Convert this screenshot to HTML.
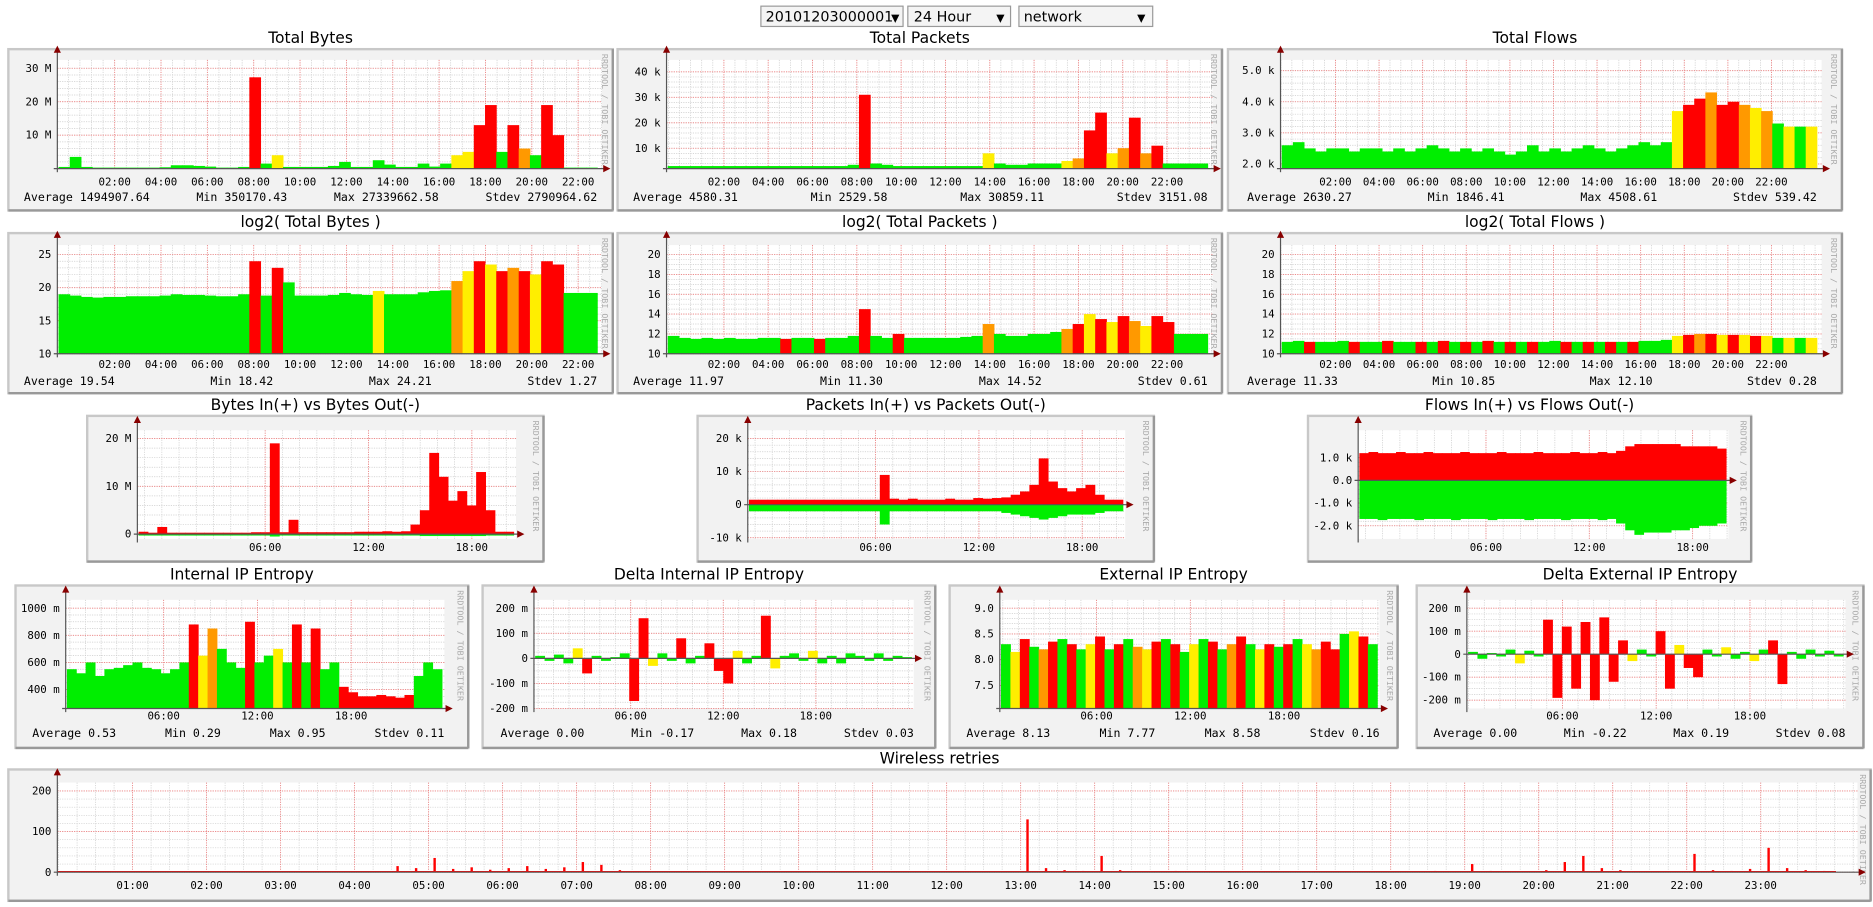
<!DOCTYPE html>
<html><head><meta charset="utf-8"><style>
html,body{margin:0;padding:0;background:#fff;width:1873px;height:907px;overflow:hidden}
svg{display:block}
.t{font-family:"DejaVu Sans","Liberation Sans",sans-serif;font-size:13px;fill:#000}
.m{font-family:"DejaVu Sans Mono","Liberation Mono",monospace;font-size:9px;fill:#000}
.s{font-family:"DejaVu Sans Mono","Liberation Mono",monospace;font-size:9.7px;fill:#000}
.r{font-family:"DejaVu Sans Mono","Liberation Mono",monospace;font-size:7px;fill:#aaa}
</style></head><body>
<svg id="root" width="1873" height="907" viewBox="0 0 1568 759">
<g>
<g><rect x="637" y="5" width="119" height="17" fill="#f4f4f4" stroke="#999"/><text class="t" x="641" y="18" style="font-size:12px">20101203000001</text><text class="t" x="746" y="18" style="font-size:9px">▼</text></g>
<g><rect x="760" y="5" width="86" height="17" fill="#f4f4f4" stroke="#999"/><text class="t" x="765" y="18" style="font-size:12px">24 Hour</text><text class="t" x="834" y="18" style="font-size:9px">▼</text></g>
<g><rect x="853" y="5" width="112" height="17" fill="#f4f4f4" stroke="#999"/><text class="t" x="857" y="18" style="font-size:12px">network</text><text class="t" x="952" y="18" style="font-size:9px">▼</text></g>
</g>
</svg>
<script>
// ---- data ----
const tbVals=[0.5,3.5,0.5,0.3,0.3,0.3,0.3,0.3,0.3,0.4,1,1,0.8,0.6,0.3,0.3,0.5,27.3,1.5,4,0.5,0.5,0.5,0.5,0.8,2,0.5,0.5,2.5,1.2,0.5,0.5,1.5,0.6,1.5,4,5,13,19,5,13,6,4,19,10,0.3,0.3,0.3];
const tbCols={17:'r',19:'y',35:'y',36:'y',37:'r',38:'r',40:'r',41:'o',43:'r',44:'r'};
const tpVals=[3,3,3,3,3,3,3,3,3,3,3,3,3,3,3,3,3.5,31,4,3.5,3,3,3,3,3,3,3,3,8,4,3.5,3.5,4,4,4,5,6,17,24,8,10,22,8,11,4,4,4,4];
const tpCols={17:'r',28:'y',35:'y',36:'o',37:'r',38:'r',39:'y',40:'o',41:'r',42:'o',43:'r'};
const tfVals=[2.6,2.7,2.5,2.4,2.5,2.5,2.4,2.5,2.5,2.4,2.5,2.4,2.5,2.6,2.5,2.4,2.5,2.4,2.5,2.4,2.3,2.4,2.6,2.4,2.5,2.4,2.5,2.6,2.5,2.4,2.5,2.6,2.7,2.6,2.7,3.7,3.9,4.1,4.3,3.9,4.0,3.9,3.8,3.7,3.3,3.2,3.2,3.2];
const tfCols={35:'y',36:'r',37:'r',38:'o',39:'r',40:'r',41:'o',42:'y',43:'o',45:'y',47:'y'};
const lbVals=[19,18.8,18.6,18.5,18.6,18.6,18.7,18.7,18.7,18.8,19,18.9,18.9,18.8,18.7,18.7,19,24,18.8,23,20.8,18.8,18.8,18.8,18.9,19.2,19,18.9,19.5,19,19,19,19.3,19.5,19.6,21,22.5,24,23.5,22.5,23,22.5,22,24,23.5,19.2,19.2,19.2];
const lbCols={17:'r',19:'r',28:'y',35:'o',36:'y',37:'r',38:'y',39:'r',40:'o',41:'r',42:'y',43:'r',44:'r'};
const lpVals=[11.8,11.6,11.5,11.6,11.5,11.6,11.5,11.5,11.6,11.6,11.5,11.6,11.6,11.5,11.6,11.6,11.8,14.5,11.8,11.6,12,11.6,11.6,11.6,11.6,11.6,11.7,11.8,13,12,11.8,11.8,12,12,12.2,12.5,13,14,13.5,13.2,13.8,13.3,12.8,13.8,13.2,12,12,12];
const lpCols={10:'r',13:'r',17:'r',20:'r',28:'o',35:'o',36:'r',37:'y',38:'r',39:'y',40:'r',41:'o',42:'y',43:'r',44:'r'};
const lfVals=[11.2,11.3,11.2,11.2,11.2,11.3,11.2,11.2,11.2,11.3,11.2,11.2,11.2,11.2,11.3,11.2,11.2,11.2,11.3,11.2,11.2,11.2,11.2,11.2,11.3,11.2,11.2,11.2,11.2,11.2,11.2,11.2,11.3,11.3,11.4,11.8,11.9,12,12,11.9,11.9,11.9,11.8,11.8,11.6,11.6,11.6,11.6];
const lfCols={2:'r',6:'r',9:'r',12:'r',14:'r',16:'r',18:'r',20:'r',22:'r',25:'r',27:'r',29:'r',31:'r',35:'y',36:'r',37:'o',38:'r',39:'y',40:'r',41:'y',42:'r',43:'y',45:'y',47:'y'};
const bytesIn=[0.5,0.3,1.5,0.3,0.3,0.3,0.3,0.3,0.3,0.3,0.3,0.3,0.4,0.4,19,0.4,3,0.4,0.4,0.4,0.4,0.4,0.4,0.5,0.5,0.5,0.6,0.5,0.6,2,5,17,12,7,9,6,13,5,0.5,0.5];
const bytesOut=[0.3,0.3,0.3,0.3,0.3,0.3,0.3,0.3,0.3,0.3,0.3,0.3,0.3,0.3,0.5,0.3,0.3,0.3,0.3,0.3,0.3,0.3,0.3,0.3,0.3,0.3,0.3,0.3,0.3,0.3,0.4,0.4,0.4,0.4,0.4,0.4,0.4,0.3,0.3,0.3];
const pktIn=[1.5,1.5,1.5,1.5,1.5,1.5,1.5,1.5,1.5,1.5,1.5,1.5,1.5,1.5,9,1.8,1.5,1.8,1.5,1.5,1.5,1.8,1.5,1.5,2,1.8,2,2.2,3,4,6,14,7,5,4,5,6,3,1.5,1.5];
const pktOut=[2,2,2,2,2,2,2,2,2,2,2,2,2,2,6,2,2,2,2,2,2,2,2,2,2,2,2,2.5,3,3.5,4,4.5,4,3.5,3,3,3,2.5,2,2];
const flowIn=[1.2,1.25,1.2,1.2,1.25,1.2,1.2,1.25,1.2,1.2,1.2,1.25,1.2,1.2,1.2,1.25,1.2,1.2,1.2,1.25,1.2,1.2,1.2,1.25,1.2,1.2,1.25,1.2,1.3,1.5,1.6,1.6,1.6,1.6,1.6,1.5,1.5,1.5,1.5,1.4];
const flowOut=[1.7,1.7,1.75,1.7,1.7,1.7,1.75,1.7,1.7,1.7,1.75,1.7,1.7,1.7,1.75,1.7,1.7,1.7,1.75,1.7,1.7,1.7,1.75,1.7,1.7,1.7,1.75,1.7,1.9,2.2,2.4,2.3,2.3,2.3,2.2,2.2,2.1,2.0,2.0,1.9];
const intEnt=[550,520,600,500,550,560,580,600,560,550,520,550,600,880,650,850,700,600,560,900,600,650,700,600,880,600,850,550,600,420,380,350,350,360,350,340,360,500,600,550];
const intEntCols={13:'r',14:'y',15:'o',19:'r',22:'y',24:'r',26:'r',29:'r',30:'r',31:'r',32:'r',33:'r',34:'r',35:'r',36:'r'};
const dIntEnt=[10,-10,15,-20,40,-60,10,-10,5,20,-170,160,-30,20,-10,80,-20,10,60,-50,-100,30,-20,10,170,-40,10,20,-10,30,-20,10,-20,20,10,-10,20,-10,10,5];
const extEnt=[8.3,8.15,8.4,8.25,8.2,8.35,8.4,8.3,8.2,8.3,8.45,8.2,8.3,8.4,8.25,8.2,8.35,8.4,8.3,8.15,8.3,8.4,8.35,8.2,8.3,8.45,8.3,8.2,8.3,8.25,8.3,8.4,8.3,8.2,8.35,8.2,8.5,8.55,8.45,8.3];
const extEntCols={1:'y',2:'r',4:'o',5:'r',7:'r',9:'y',10:'r',12:'r',14:'o',15:'y',16:'r',18:'r',20:'y',22:'r',24:'o',25:'r',27:'y',28:'r',30:'r',32:'y',33:'o',34:'r',35:'r',37:'y',38:'r'};
const dExtEnt=[10,-20,5,-10,20,-40,15,-10,150,-190,120,-150,140,-200,160,-120,60,-30,20,-10,100,-150,40,-60,-100,20,-10,30,-20,10,-30,20,60,-130,10,-20,20,-10,15,-10];
const wirelessRetries=[0,0,0,0,0,0,0,0,0,0,0,0,0,0,0,0,0,2,15,10,35,8,12,6,10,15,8,12,25,18,5,0,0,0,0,0,0,0,0,0,0,0,0,0,0,0,0,0,0,0,0,0,130,10,5,3,40,5,2,0,3,0,0,2,0,2,0,0,0,0,2,0,0,0,3,0,20,3,0,2,5,25,40,10,5,0,0,2,45,5,3,8,60,10,5,3];
const hrs2=["02:00","04:00","06:00","08:00","10:00","12:00","14:00","16:00","18:00","20:00","22:00"];
const hrs6=["06:00","12:00","18:00"];
const hrs1=["01:00","02:00","03:00","04:00","05:00","06:00","07:00","08:00","09:00","10:00","11:00","12:00","13:00","14:00","15:00","16:00","17:00","18:00","19:00","20:00","21:00","22:00","23:00"];
// ---- drawing ----
const NS='http://www.w3.org/2000/svg';
const root=document.getElementById('root');
const COL={g:'#00ee00',y:'#ffee00',o:'#ff9900',r:'#ff0000'};
const CW=5.85;
function mk(tag,attrs,parent,txt){const e=document.createElementNS(NS,tag);for(const k in attrs)e.setAttribute(k,attrs[k]);if(txt!==undefined)e.textContent=txt;parent.appendChild(e);return e;}
function panel(c){
  const g=mk('g',{},root);
  
  
  const tt=mk('text',{class:'t',x:c.bx+c.bw/2,y:c.by-5,'text-anchor':'middle'},g,c.title);
  
  
  const box=mk('rect',{x:c.bx,y:c.by,width:c.bw,height:c.bh,fill:'#f2f2f2',stroke:'#c8c8c8','stroke-width':2},g);
  
  
  mk('line',{x1:c.bx+c.bw,y1:c.by,x2:c.bx+c.bw,y2:c.by+c.bh,stroke:'#999','stroke-width':2},g);
  mk('line',{x1:c.bx,y1:c.by+c.bh,x2:c.bx+c.bw,y2:c.by+c.bh,stroke:'#999','stroke-width':2},g);
  const y=v=>c.yb-(v-c.vb)*(c.yb-c.yt)/(c.vt-c.vb);
  const pbot=c.pbot||c.yb;
  mk('rect',{x:c.ax,y:c.pt,width:c.pr-c.ax,height:pbot-c.pt,fill:'#fff'},g);
  for(let v=c.ymin0;v<=c.vt+1e-9;v+=c.ystep){const py=y(v);if(py<c.pt||py>pbot)continue;mk('line',{x1:c.ax,y1:py,x2:c.pr,y2:py,stroke:'#ccc','stroke-width':0.6,'stroke-dasharray':'1,1'},g);}
  const xs=c.xt;
  const sp=xs.length>1?(xs[1]-xs[0]):60;
  for(let px=xs[0]-sp*Math.ceil((xs[0]-c.ax)/sp);px<c.pr;px+=sp/c.vdiv){if(px<=c.ax)continue;mk('line',{x1:px,y1:c.pt,x2:px,y2:pbot,stroke:'#ccc','stroke-width':0.6,'stroke-dasharray':'1,1'},g);}
  xs.forEach((px,i)=>{mk('line',{x1:px,y1:c.pt,x2:px,y2:pbot,stroke:'#f08080','stroke-width':0.7,'stroke-dasharray':'1,1'},g);
    const lt=mk('text',{class:'m',x:px,y:c.xly,'text-anchor':'middle'},g,c.xl[i]);
    
    });
  c.yl.forEach((lab,i)=>{const py=y(c.yv[i]);mk('line',{x1:c.ax,y1:py,x2:c.pr,y2:py,stroke:'#f08080','stroke-width':0.7,'stroke-dasharray':'1,1'},g);
    const lt=mk('text',{class:'m',x:c.ax-5,y:py+3,'text-anchor':'end'},g,lab);
    
    });
  const rr=mk('text',{class:'r',transform:`translate(${c.bx+c.bw-9},${c.by+4}) rotate(90)`},g,'RRDTOOL / TOBI OETIKER');
  
  
  if(c.stats){
    const L=c.ax-28,R=c.sr||c.pr;
    const tot=c.stats.reduce((a,s)=>a+s.length*CW,0);
    const gap=(R-L-tot)/(c.stats.length-1);
    let x=L;
    c.stats.forEach(s=>{const st=mk('text',{class:'s',x:x,y:c.sy,textLength:s.length*CW},g,s);
      
      
      x+=s.length*CW+gap;});
  }
  return {g,y,c,axes:()=>{
    mk('line',{x1:c.ax,y1:c.pt-8,x2:c.ax,y2:pbot+3,stroke:'#555','stroke-width':1},g);
    const zy=c.zero!==undefined?y(c.zero):pbot;
    mk('line',{x1:c.ax-3,y1:zy,x2:c.pr+2,y2:zy,stroke:'#555','stroke-width':1},g);
    mk('path',{d:`M${c.ax-3},${c.pt-6}L${c.ax+3},${c.pt-6}L${c.ax},${c.pt-12}Z`,fill:'#800'},g);
    mk('path',{d:`M${c.pr+1},${zy-3}L${c.pr+1},${zy+3}L${c.pr+7},${zy}Z`,fill:'#800'},g);
  }};
}
function bars(P,vals,cols,base,name){
  const c=P.c,n=vals.length,w=(c.dr-c.ax-1)/n;
  const bg=mk('g',{},P.g);
  
  
  vals.forEach((v,i)=>{const y0=P.y(base),y1=P.y(v);
    const col=typeof cols==='function'?cols(v):COL[cols[i]||'g'];
    const r=mk('rect',{x:c.ax+1+i*w,y:Math.min(y0,y1),width:w+0.4,height:Math.abs(y1-y0),fill:col},bg);
    
    });
}
function lin(x0,x1,labs){return labs.map((_,i)=>x0+(x1-x0)*i/(labs.length-1));}
const row1=(name,title,bx,bw,ax,pr,vb,vt,yb,yt,yl,yv,step,x0,x1,stats)=>panel({name,title,bx,by:41,bw,bh:135,ax,pr,dr:pr-4,pt:50,yb,yt,vb,vt,yl,yv,ymin0:yv[yv.length-1]-step*Math.floor((yv[yv.length-1]-vb)/step),ystep:step,xt:lin(x0,x1,hrs2),xl:hrs2,vdiv:4,xly:155,sy:168,stats,sr:pr-4,pbot:141});
const row2=(name,title,bx,bw,ax,pr,vb,vt,yl,yv,step,x0,x1,stats)=>panel({name,title,bx,by:195,bw,bh:134,ax,pr,dr:pr-4,pt:205,yb:296,yt:213,vb,vt,yl,yv,ymin0:vb,ystep:step,xt:lin(x0,x1,hrs2),xl:hrs2,vdiv:4,xly:308,sy:322,stats,sr:pr-4});

let P;
P=row1('total-bytes-chart','Total Bytes',7,506,48,504,0,30,141,57,['30 M','20 M','10 M'],[30,20,10],2,96,484,['Average 1494907.64','Min 350170.43','Max 27339662.58','Stdev 2790964.62']);
bars(P,tbVals,tbCols,0,'total-bytes-bars');P.axes();
P=row1('total-packets-chart','Total Packets',517,506,558,1015,2,40,141,60,['40 k','30 k','20 k','10 k'],[40,30,20,10],2,606,977,['Average 4580.31','Min 2529.58','Max 30859.11','Stdev 3151.08']);
bars(P,tpVals,tpCols,2,'total-packets-bars');P.axes();
P=row1('total-flows-chart','Total Flows',1028,514,1072,1525,1.85,5,141,59,['5.0 k','4.0 k','3.0 k','2.0 k'],[5,4,3,2],0.2,1118,1483,['Average 2630.27','Min 1846.41','Max 4508.61','Stdev 539.42']);
bars(P,tfVals,tfCols,1.85,'total-flows-bars');P.axes();

P=row2('log2-total-bytes-chart','log2( Total Bytes )',7,506,48,504,10,25,['25','20','15','10'],[25,20,15,10],1,96,484,['Average 19.54','Min 18.42','Max 24.21','Stdev 1.27']);
bars(P,lbVals,lbCols,10,'log2-bytes-bars');P.axes();
P=row2('log2-total-packets-chart','log2( Total Packets )',517,506,558,1015,10,20,['20','18','16','14','12','10'],[20,18,16,14,12,10],0.5,606,977,['Average 11.97','Min 11.30','Max 14.52','Stdev 0.61']);
bars(P,lpVals,lpCols,10,'log2-packets-bars');P.axes();
P=row2('log2-total-flows-chart','log2( Total Flows )',1028,514,1072,1525,10,20,['20','18','16','14','12','10'],[20,18,16,14,12,10],0.5,1118,1483,['Average 11.33','Min 10.85','Max 12.10','Stdev 0.28']);
bars(P,lfVals,lfCols,10,'log2-flows-bars');P.axes();

const row3=(name,title,bx,bw,ax,pr,vb,vt,yb,yt,yl,yv,step,x0,x1)=>panel({name,title,bx,by:348,bw,bh:122,ax,pr,dr:pr-2,pt:360,yb,yt,vb,vt,yl,yv,ymin0:yv[yv.length-1],ystep:step,xt:lin(x0,x1,hrs6),xl:hrs6,vdiv:6,xly:461,pbot:451,zero:0});
const RED=()=>COL.r,GRN=()=>COL.g;
P=row3('bytes-in-out-chart','Bytes In(+) vs Bytes Out(-)',73,382,115,432,0,20,447,367,['20 M','10 M','0'],[20,10,0],2,222,395);
bars(P,bytesIn,RED,0,'bytes-in-bars');bars(P,bytesOut.map(v=>-v),GRN,0,'bytes-out-bars');P.axes();
P=row3('packets-in-out-chart','Packets In(+) vs Packets Out(-)',584,382,626,942,-10,20,450,367,['20 k','10 k','0','-10 k'],[20,10,0,-10],2,733,906);
bars(P,pktIn,RED,0,'packets-in-bars');bars(P,pktOut.map(v=>-v),GRN,0,'packets-out-bars');P.axes();
P=row3('flows-in-out-chart','Flows In(+) vs Flows Out(-)',1095,371,1137,1447,-2,1,440,383,['1.0 k','0.0','-1.0 k','-2.0 k'],[1,0,-1,-2],0.2,1244,1417);
bars(P,flowIn,RED,0,'flows-in-bars');bars(P,flowOut.map(v=>-v),GRN,0,'flows-out-bars');P.axes();

const row4=(name,title,bx,bw,ax,pr,vb,vt,yb,yt,yl,yv,step,x0,x1,stats,zero)=>panel({name,title,bx,by:490,bw,bh:136,ax,pr,dr:pr-2,pt:502,yb,yt,vb,vt,yl,yv,ymin0:yv[yv.length-1]-step*Math.floor((yv[yv.length-1]-vb)/step),ystep:step,xt:lin(x0,x1,hrs6),xl:hrs6,vdiv:6,xly:602,sy:617,stats,pbot:593,zero});
const sev=v=>{const a=Math.abs(v);return a>=50?COL.r:(a>=30?COL.y:COL.g);};
P=row4('internal-ip-entropy-chart','Internal IP Entropy',13,379,55,372,260,1000,593,509,['1000 m','800 m','600 m','400 m'],[1000,800,600,400],50,137,294,['Average 0.53','Min 0.29','Max 0.95','Stdev 0.11']);
bars(P,intEnt,intEntCols,260,'internal-entropy-bars');P.axes();
P=row4('delta-internal-ip-entropy-chart','Delta Internal IP Entropy',404,379,447,765,-200,200,593,509,['200 m','100 m','0','-100 m','-200 m'],[200,100,0,-100,-200],25,528,683,['Average 0.00','Min -0.17','Max 0.18','Stdev 0.03'],0);
bars(P,dIntEnt,sev,0,'delta-internal-bars');P.axes();
P=row4('external-ip-entropy-chart','External IP Entropy',795,375,837,1155,7.05,9,593,509,['9.0','8.5','8.0','7.5'],[9,8.5,8,7.5],0.1,918,1075,['Average 8.13','Min 7.77','Max 8.58','Stdev 0.16']);
bars(P,extEnt,extEntCols,7.05,'external-entropy-bars');P.axes();
P=row4('delta-external-ip-entropy-chart','Delta External IP Entropy',1186,374,1228,1545,-200,200,586,509,['200 m','100 m','0','-100 m','-200 m'],[200,100,0,-100,-200],25,1308,1465,['Average 0.00','Min -0.22','Max 0.19','Stdev 0.08'],0);
bars(P,dExtEnt,sev,0,'delta-external-bars');P.axes();

P=panel({name:'wireless-retries-chart',title:'Wireless retries',bx:7,by:644,bw:1559,bh:110,ax:48,pr:1555,dr:1537,pt:655,yb:730,yt:662,vb:0,vt:200,yl:['200','100','0'],yv:[200,100,0],ymin0:0,ystep:20,xt:lin(111,1474,hrs1),xl:hrs1,vdiv:4,xly:744});
(function(){const c=P.c,n=wirelessRetries.length,w=(c.dr-c.ax)/n;
  const bg=mk('g',{},P.g);
  
  
  wirelessRetries.forEach((v,i)=>{if(v<=0)return;const y1=P.y(v);
    const r=mk('rect',{x:c.ax+i*w+w*0.3,y:y1,width:2,height:P.y(0)-y1,fill:COL.r},bg);
    
    });
  mk('line',{x1:c.ax,y1:P.y(0)-0.5,x2:c.dr,y2:P.y(0)-0.5,stroke:COL.r,'stroke-width':1},bg);})();
P.axes();
</script>
</body></html>
